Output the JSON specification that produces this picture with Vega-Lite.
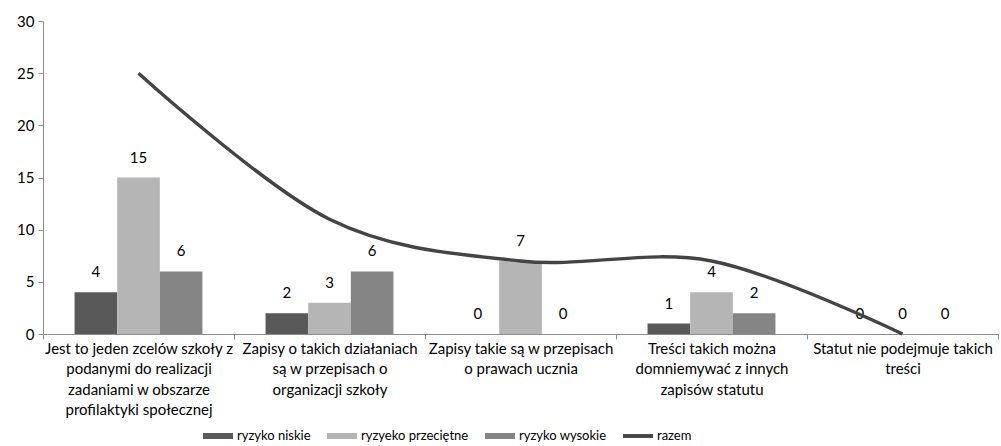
{
  "$schema": "https://vega.github.io/schema/vega-lite/v6.json",
  "width": 955,
  "height": 313,
  "autosize": "none",
  "padding": {"left": 43, "top": 21, "right": 3, "bottom": 112},
  "background": "white",
  "config": {
    "view": {"stroke": null},
    "font": "Lato",
    "axis": {"labelFont": "Lato", "labelColor": "#000000", "grid": false, "domainColor": "#8c8c8c", "tickColor": "#8c8c8c", "title": null}
  },
  "datasets": {
    "bars": [
      {"kategoria": "Jest to jeden zcelów szkoły z\npodanymi do realizacji\nzadaniami w obszarze\nprofilaktyki społecznej", "seria": "ryzyko niskie", "wartosc": 4},
      {"kategoria": "Jest to jeden zcelów szkoły z\npodanymi do realizacji\nzadaniami w obszarze\nprofilaktyki społecznej", "seria": "ryzyeko przeciętne", "wartosc": 15},
      {"kategoria": "Jest to jeden zcelów szkoły z\npodanymi do realizacji\nzadaniami w obszarze\nprofilaktyki społecznej", "seria": "ryzyko wysokie", "wartosc": 6},
      {"kategoria": "Zapisy o takich działaniach\nsą w przepisach o\norganizacji szkoły", "seria": "ryzyko niskie", "wartosc": 2},
      {"kategoria": "Zapisy o takich działaniach\nsą w przepisach o\norganizacji szkoły", "seria": "ryzyeko przeciętne", "wartosc": 3},
      {"kategoria": "Zapisy o takich działaniach\nsą w przepisach o\norganizacji szkoły", "seria": "ryzyko wysokie", "wartosc": 6},
      {"kategoria": "Zapisy takie są w przepisach\no prawach ucznia", "seria": "ryzyko niskie", "wartosc": 0},
      {"kategoria": "Zapisy takie są w przepisach\no prawach ucznia", "seria": "ryzyeko przeciętne", "wartosc": 7},
      {"kategoria": "Zapisy takie są w przepisach\no prawach ucznia", "seria": "ryzyko wysokie", "wartosc": 0},
      {"kategoria": "Treści takich można\ndomniemywać z innych\nzapisów statutu", "seria": "ryzyko niskie", "wartosc": 1},
      {"kategoria": "Treści takich można\ndomniemywać z innych\nzapisów statutu", "seria": "ryzyeko przeciętne", "wartosc": 4},
      {"kategoria": "Treści takich można\ndomniemywać z innych\nzapisów statutu", "seria": "ryzyko wysokie", "wartosc": 2},
      {"kategoria": "Statut nie podejmuje takich\ntreści", "seria": "ryzyko niskie", "wartosc": 0},
      {"kategoria": "Statut nie podejmuje takich\ntreści", "seria": "ryzyeko przeciętne", "wartosc": 0},
      {"kategoria": "Statut nie podejmuje takich\ntreści", "seria": "ryzyko wysokie", "wartosc": 0}
    ],
    "razem": [
      {"kategoria": "Jest to jeden zcelów szkoły z\npodanymi do realizacji\nzadaniami w obszarze\nprofilaktyki społecznej", "seria": "razem", "wartosc": 25},
      {"kategoria": "Zapisy o takich działaniach\nsą w przepisach o\norganizacji szkoły", "seria": "razem", "wartosc": 11},
      {"kategoria": "Zapisy takie są w przepisach\no prawach ucznia", "seria": "razem", "wartosc": 7},
      {"kategoria": "Treści takich można\ndomniemywać z innych\nzapisów statutu", "seria": "razem", "wartosc": 7},
      {"kategoria": "Statut nie podejmuje takich\ntreści", "seria": "razem", "wartosc": 0}
    ]
  },
  "encoding": {
    "x": {
      "field": "kategoria", "type": "nominal", "sort": null,
      "scale": {"paddingInner": 0, "paddingOuter": 0},
      "axis": {"labelAngle": 0, "labelExpr": "split(datum.label, '\\n')", "labelFontSize": 15, "labelLineHeight": 20.5, "tickBand": "extent", "tickSize": 5, "labelPadding": 2, "labelLimit": 0}
    },
    "y": {
      "field": "wartosc", "type": "quantitative",
      "scale": {"domain": [0, 30], "nice": false},
      "axis": {"values": [0, 5, 10, 15, 20, 25, 30], "labelFontSize": 15, "tickSize": 5, "labelPadding": 4}
    }
  },
  "layer": [
    {
      "data": {"name": "bars"},
      "mark": {"type": "bar"},
      "encoding": {
        "xOffset": {"field": "seria", "type": "nominal", "sort": ["ryzyko niskie", "ryzyeko przeciętne", "ryzyko wysokie"], "scale": {"paddingInner": 0, "paddingOuter": 0.74}},
        "color": {
          "field": "seria", "type": "nominal",
          "scale": {"domain": ["ryzyko niskie", "ryzyeko przeciętne", "ryzyko wysokie", "razem"], "range": ["#595959", "#b5b5b5", "#858585", "#444444"]},
          "legend": {
            "title": null, "orient": "none", "legendX": 160, "legendY": 400, "direction": "horizontal",
            "labelFontSize": 13, "labelFont": "Lato", "labelColor": "#000000",
            "symbolType": "M-1,-0.2H1V0.2H-1Z", "symbolSize": 900, "symbolStrokeWidth": 0,
            "labelOffset": 4, "columnPadding": 16,
            "encode": {"symbols": {"update": {"shape": {"signal": "datum.value === 'razem' ? 'M-1,-0.13H1V0.13H-1Z' : 'M-1,-0.2H1V0.2H-1Z'"}, "fill": {"scale": "color", "field": "value"}, "strokeWidth": {"value": 0}}}}
          }
        }
      }
    },
    {
      "data": {"name": "bars"},
      "mark": {"type": "text", "baseline": "middle", "dy": -20, "fontSize": 15, "font": "Lato", "color": "#000000"},
      "encoding": {
        "xOffset": {"field": "seria", "type": "nominal", "sort": ["ryzyko niskie", "ryzyeko przeciętne", "ryzyko wysokie"]},
        "text": {"field": "wartosc", "type": "quantitative"}
      }
    },
    {
      "data": {"name": "razem"},
      "mark": {"type": "line", "interpolate": "cardinal", "strokeWidth": 3.4},
      "encoding": {
        "color": {"field": "seria", "type": "nominal"}
      }
    }
  ]
}
